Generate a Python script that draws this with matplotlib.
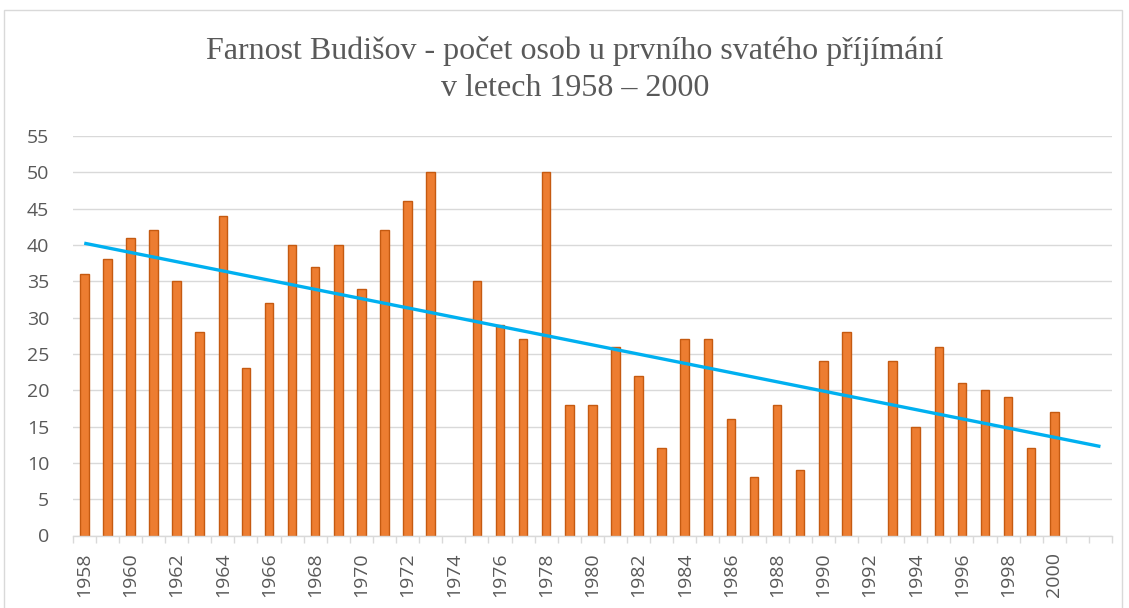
import numpy as np
import matplotlib
matplotlib.use("Agg")
import matplotlib.pyplot as plt
from matplotlib.patches import Rectangle

years = list(range(1958, 2003))          # category axis (2001, 2002 empty)
counts = [36, 38, 41, 42, 35, 28, 44, 23, 32, 40, 37, 40, 34, 42, 46, 50,
          None, 35, 29, 27, 50, 18, 18, 26, 22, 12, 27, 27, 16, 8, 18, 9,
          24, 28, None, 24, 15, 26, 21, 20, 19, 12, 17]   # 1958-2000
title_lines = ["Farnost Budišov - počet osob u prvního svatého příjímání",
               "v letech 1958 – 2000"]

W, H = 1129, 608
fig = plt.figure(figsize=(W / 100, H / 100), dpi=100)

# chart border
fig.add_artist(Rectangle((4 / W, -0.1), (1122 - 4) / W, 1.1 - 10 / H,
                         transform=fig.transFigure, fill=False,
                         edgecolor="#D9D9D9", linewidth=1.0))

x0, x1 = 72.7, 1112
ytop, ybot = 136, 535.5
ax = fig.add_axes([x0 / W, 1 - ybot / H, (x1 - x0) / W, (ybot - ytop) / H])

idx = np.arange(len(years))
n = len(counts)
vals = np.array([np.nan if v is None else v for v in counts], dtype=float)
mask = ~np.isnan(vals)
xi = idx[:n]

ax.bar(xi[mask], vals[mask], width=0.37, color="#ED7D31",
       edgecolor="#C55A11", linewidth=1.0, zorder=3)

# linear trendline: least squares over the series (blank years count as 0),
# extended forward to the last category
fitvals = np.where(mask, vals, 0.0)
coef = np.polyfit(xi, fitvals, 1)
tx = np.array([idx[0], idx[-1]])
ax.plot(tx, np.polyval(coef, tx), color="#00B0F0", linewidth=2.4,
        zorder=4, solid_capstyle="butt")

ax.set_xlim(-0.5, len(years) - 0.5)
ax.set_ylim(0, 55)
ax.set_yticks(np.arange(0, 56, 5))
ax.yaxis.grid(True, color="#D9D9D9", linewidth=1.0, zorder=0)
ax.set_axisbelow(True)

for s in ["top", "right", "left"]:
    ax.spines[s].set_visible(False)
ax.spines["bottom"].set_color("#D9D9D9")
ax.spines["bottom"].set_linewidth(1.0)
ax.spines["bottom"].set_zorder(5)

ax.tick_params(axis="y", length=0, pad=17, labelsize=14, labelcolor="#595959")
for lab in ax.get_yticklabels():
    lab.set_fontfamily("Open Sans")

# category boundary ticks (major, no labels); labels every other year (minor)
ax.set_xticks(np.arange(-0.5, len(years), 1.0))
ax.set_xticklabels([])
ax.tick_params(axis="x", which="major", length=5, width=1.0, color="#D9D9D9")
lab_idx = idx[::2][:22]
ax.set_xticks(lab_idx, minor=True)
ax.set_xticklabels([str(years[i]) for i in lab_idx], minor=True, rotation=90,
                   fontsize=14, color="#595959", fontfamily="Open Sans")
ax.tick_params(axis="x", which="minor", length=0, pad=12)

tx_c = 575 / W
fig.text(tx_c, 1 - 51 / H, title_lines[0], ha="center", va="center",
         fontsize=23, color="#595959", fontfamily="Liberation Serif")
fig.text(tx_c, 1 - 88 / H, title_lines[1], ha="center", va="center",
         fontsize=23, color="#595959", fontfamily="Liberation Serif")

fig.savefig("out.png", dpi=100, facecolor="white")
